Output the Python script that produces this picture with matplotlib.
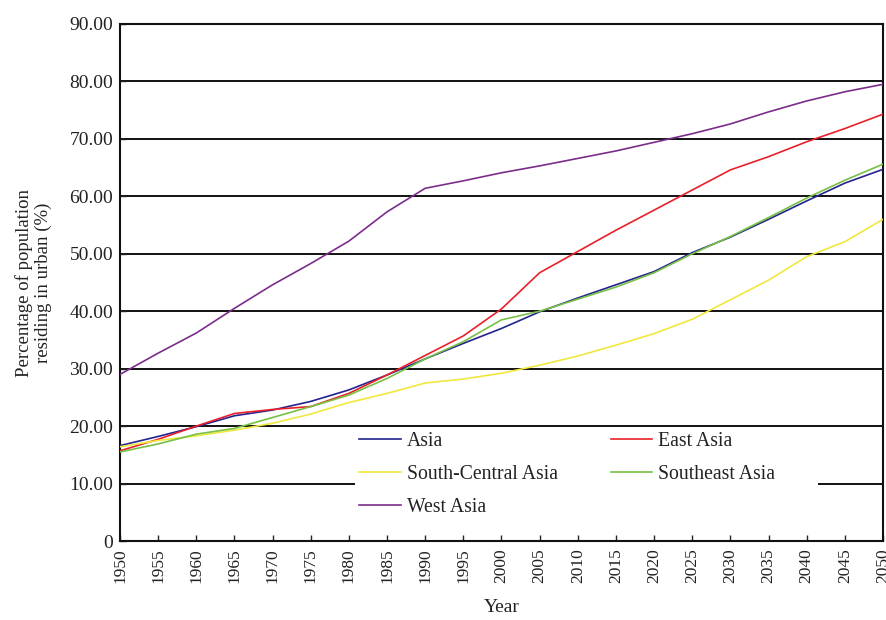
import matplotlib
matplotlib.use("Agg")
import matplotlib.pyplot as plt
from matplotlib.patches import Rectangle

years = [1950, 1955, 1960, 1965, 1970, 1975, 1980, 1985, 1990, 1995, 2000,
         2005, 2010, 2015, 2020, 2025, 2030, 2035, 2040, 2045, 2050]

asia = [16.6, 18.2, 19.9, 21.8, 22.8, 24.3, 26.3, 28.9, 31.7, 34.4, 37.0,
        39.9, 42.3, 44.6, 46.9, 50.2, 52.9, 56.0, 59.2, 62.3, 64.7]
east_asia = [15.7, 17.7, 20.0, 22.2, 22.9, 23.4, 25.7, 28.9, 32.3, 35.7, 40.4,
             46.7, 50.4, 54.1, 57.6, 61.1, 64.6, 66.9, 69.5, 71.8, 74.3]
south_central = [16.4, 17.5, 18.3, 19.3, 20.5, 22.1, 24.1, 25.7, 27.5, 28.2, 29.2,
                 30.6, 32.2, 34.1, 36.1, 38.6, 42.0, 45.4, 49.5, 52.1, 56.0]
southeast = [15.5, 16.9, 18.6, 19.6, 21.5, 23.4, 25.4, 28.3, 31.7, 34.7, 38.5,
             40.0, 42.1, 44.2, 46.7, 50.0, 53.0, 56.3, 59.7, 62.8, 65.6]
west_asia = [29.0, 32.7, 36.2, 40.5, 44.6, 48.3, 52.2, 57.3, 61.4, 62.7, 64.1,
             65.3, 66.6, 67.9, 69.4, 70.9, 72.6, 74.7, 76.6, 78.2, 79.5]

series = [
    ("Asia", asia, "#23238f"),
    ("East Asia", east_asia, "#e8202a"),
    ("South-Central Asia", south_central, "#f0e83c"),
    ("Southeast Asia", southeast, "#78c043"),
    ("West Asia", west_asia, "#7b2d8b"),
]

yticks = [0, 10, 20, 30, 40, 50, 60, 70, 80, 90]
ytick_labels = ["0", "10.00", "20.00", "30.00", "40.00", "50.00",
                "60.00", "70.00", "80.00", "90.00"]

plt.rcParams["font.family"] = ["Liberation Serif", "DejaVu Serif"]

fig = plt.figure(figsize=(8.86, 6.2), dpi=100)
ax = fig.add_axes([0.1354, 0.1274, 0.8612, 0.8339])

lines = {}
for name, vals, col in series:
    lines[name], = ax.plot(years, vals, color=col, linewidth=1.2, label=name, zorder=3)

ax.set_xlim(1950, 2050)
ax.set_ylim(0, 90)
ax.set_xticks(years)
ax.set_xticklabels([str(y) for y in years], rotation=90, fontsize=12.5)
ax.set_yticks(yticks)
ax.set_yticklabels(ytick_labels, fontsize=14)
ax.tick_params(axis="both", direction="in", length=4, width=1, colors="#222222")
ax.tick_params(axis="y", pad=5)
ax.tick_params(axis="x", pad=5)

ax.set_axisbelow(True)
ax.yaxis.grid(True, color="#111111", linewidth=1.4)
for s in ax.spines.values():
    s.set_linewidth(1.5)
    s.set_color("#111111")

# white block behind the legend hides the grid lines
ax.add_patch(Rectangle((0.308, 0.02), 0.607, 0.196, transform=ax.transAxes,
                       facecolor="white", edgecolor="none", zorder=1))

# column-major fill, so order gives rows: Asia/East, South-Central/Southeast, West
order = ["Asia", "South-Central Asia", "West Asia", "East Asia", "Southeast Asia"]
leg = ax.legend([lines[n] for n in order], order, ncol=2, loc="upper left",
                bbox_to_anchor=(0.3035, 0.226), frameon=False, fontsize=14.2,
                handlelength=2.1, handletextpad=0.3, columnspacing=2.7,
                labelspacing=0.7, borderaxespad=0)
for t in leg.get_texts():
    t.set_color("#222222")

ax.set_xlabel("Year", fontsize=14, labelpad=12, color="#222222")
ax.set_ylabel("Percentage of population\nresiding in urban (%)", fontsize=13.5,
              labelpad=12, color="#222222", linespacing=1.15)

fig.savefig("out.png", dpi=100)
